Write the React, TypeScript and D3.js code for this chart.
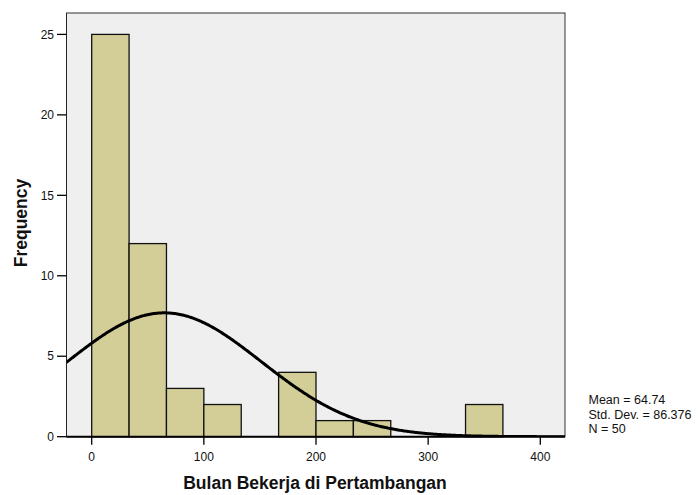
import React from "react";
import * as d3 from "d3";

const binStarts = [0, 33.333, 66.667, 100, 133.333, 166.667, 200, 233.333, 266.667, 300, 333.333];
const binWidth = 33.333;
const counts = [25, 12, 3, 2, 0, 4, 1, 1, 0, 0, 2];
const xTicks = [0, 100, 200, 300, 400];
const yTicks = [0, 5, 10, 15, 20, 25];
const mean = 64.74;
const sd = 86.376;
const n = 50;
const statsLines = ["Mean = 64.74", "Std. Dev. = 86.376", "N = 50"];

export default function App() {
  const W = 698, H = 495;
  const left = 66.5, right = 565, top = 13, bottom = 436.7;
  const x = d3.scaleLinear().domain([0, 400]).range([91.7, 540.3]);
  const y = d3.scaleLinear().domain([0, 25]).range([bottom, 34.4]);
  const xMin = x.invert(left), xMax = x.invert(right);
  const pts: [number, number][] = d3.range(0, 401).map((i) => {
    const v = xMin + ((xMax - xMin) * i) / 400;
    const d = (n * binWidth) / (sd * Math.sqrt(2 * Math.PI)) * Math.exp(-0.5 * ((v - mean) / sd) ** 2);
    return [v, d];
  });
  const line = d3.line<[number, number]>().x((p) => x(p[0])).y((p) => y(p[1]));
  const font = "'Liberation Sans', Arial, sans-serif";
  return (
    <svg width={W} height={H} style={{ position: "absolute", left: 0, top: 0 }} fontFamily={font}>
      <defs>
        <clipPath id="pa">
          <rect x={left} y={top} width={right - left} height={bottom - top} />
        </clipPath>
      </defs>
      <rect x={left} y={top} width={right - left} height={bottom - top} fill="#efefef" stroke="#333" strokeWidth={1} />
      {counts.map((c, i) =>
        c > 0 ? (
          <rect key={i} x={x(binStarts[i])} y={y(c)} width={x(binStarts[i] + binWidth) - x(binStarts[i])} height={bottom - y(c)}
            fill="#d3ce98" stroke="#111" strokeWidth={1.3} />
        ) : null
      )}
      <path d={line(pts) || ""} fill="none" stroke="#000" strokeWidth={3} clipPath="url(#pa)" />
      <line x1={left} x2={right} y1={bottom} y2={bottom} stroke="#000" strokeWidth={2} />
      <line x1={left} x2={left} y1={top} y2={bottom} stroke="#222" strokeWidth={1} />
      {yTicks.map((t) => (
        <g key={t}>
          <line x1={57} x2={left} y1={y(t)} y2={y(t)} stroke="#000" strokeWidth={1.3} />
          <text x={54} y={y(t)} dy="0.35em" textAnchor="end" fontSize={12} fill="#111">{t}</text>
        </g>
      ))}
      {xTicks.map((t) => (
        <g key={t}>
          <line x1={x(t)} x2={x(t)} y1={bottom} y2={bottom + 8} stroke="#000" strokeWidth={1.3} />
          <text x={x(t)} y={457} dy="0.35em" textAnchor="middle" fontSize={12} fill="#111">{t}</text>
        </g>
      ))}
      <text x={315} y={483} dy="0.35em" textAnchor="middle" fontSize={17.5} fontWeight="bold" fill="#111">
        Bulan Bekerja di Pertambangan
      </text>
      <text transform={`translate(21,223) rotate(-90)`} dy="0.35em" textAnchor="middle" fontSize={17.5} fontWeight="bold" fill="#111">
        Frequency
      </text>
      {statsLines.map((s, i) => (
        <text key={i} x={588.5} y={400 + i * 14.2} dy="0.35em" fontSize={12.5} fill="#111">{s}</text>
      ))}
    </svg>
  );
}
